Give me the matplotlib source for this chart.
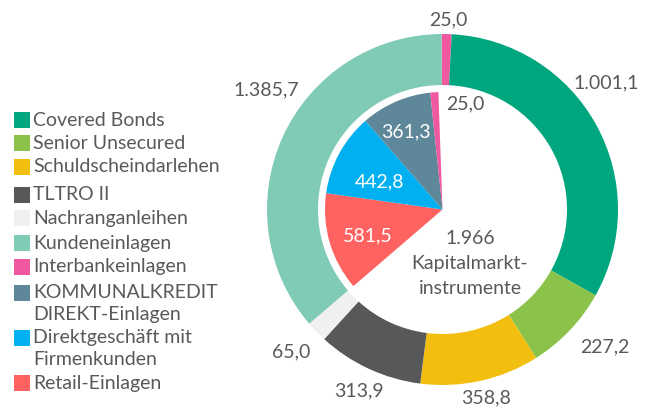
import matplotlib
matplotlib.use("Agg")
import matplotlib.pyplot as plt
from matplotlib.patches import Rectangle

plt.rcParams['font.family'] = ['Lato', 'DejaVu Sans']

# ---------------- data ----------------
# outer ring (clockwise from top)
outer_names = ["Interbankeinlagen", "Covered Bonds", "Senior Unsecured", "Schuldscheindarlehen",
               "TLTRO II", "Nachranganleihen", "Kundeneinlagen"]
outer_labels = ["25,0", "1.001,1", "227,2", "358,8", "313,9", "65,0", "1.385,7"]
# slice sizes as drawn in the picture (degrees of the ring)
outer_drawn = [3.3, 116.3, 28.5, 39.5, 35.1, 7.0, 130.3]

# inner pie (clockwise from top)
inner_names = ["Kapitalmarktinstrumente", "Retail-Einlagen", "Direktgeschäft mit Firmenkunden",
               "KOMMUNALKREDIT DIREKT-Einlagen", "Interbankeinlagen"]
inner_labels = ["1.966", "581,5", "442,8", "361,3", "25,0"]
inner_drawn = [231.3, 48.7, 41.0, 35.0, 4.0]

legend_labels = ["Covered Bonds", "Senior Unsecured", "Schuldscheindarlehen", "TLTRO II",
                 "Nachranganleihen", "Kundeneinlagen", "Interbankeinlagen",
                 "KOMMUNALKREDIT\nDIREKT-Einlagen", "Direktgeschäft mit\nFirmenkunden",
                 "Retail-Einlagen"]

# ---------------- styles ----------------
C = {
    "Covered Bonds": "#00A67E",
    "Senior Unsecured": "#8BC34A",
    "Schuldscheindarlehen": "#F2BE10",
    "TLTRO II": "#57585A",
    "Nachranganleihen": "#F0F0F0",
    "Kundeneinlagen": "#7FCBB5",
    "Interbankeinlagen": "#F058A0",
    "KOMMUNALKREDIT DIREKT-Einlagen": "#5E8799",
    "Direktgeschäft mit Firmenkunden": "#00B0F0",
    "Retail-Einlagen": "#FF6361",
    "Kapitalmarktinstrumente": "#FFFFFF",
}
TXT = "#595959"
FS = 14

W, H = 649, 407
CX, CY = 442.5, 209.5  # pie centre in pixels (from top-left)

fig = plt.figure(figsize=(W / 100, H / 100), dpi=100)
ax = fig.add_axes([0, 0, 1, 1])


def P(x, y):
    """pixel (from top-left) -> data coords centred on the pie"""
    return x - CX, CY - y


ax.pie(outer_drawn, colors=[C[n] for n in outer_names], radius=175.5, center=(0, 0),
       startangle=90.3, counterclock=False,
       wedgeprops=dict(width=51, edgecolor='none', linewidth=0))
ax.pie(inner_drawn, colors=[C[n] for n in inner_names], radius=117.5, center=(0, 0),
       startangle=92.0, counterclock=False,
       wedgeprops=dict(edgecolor='none', linewidth=0))

ax.set_xlim(-CX, W - CX)
ax.set_ylim(-(H - CY), CY)
ax.set_aspect('auto')
ax.axis('off')

# outer labels
outer_pos = [(448, 20), (606, 83), (605, 347), (486, 398), (359, 391), (291, 352), (266, 89.5)]
for lab, (px, py) in zip(outer_labels, outer_pos):
    ax.text(*P(px, py), lab, ha='center', va='center', fontsize=FS, color=TXT)

# inner labels
inner_pos = {"581,5": (368, 236), "442,8": (380, 182), "361,3": (406, 132)}
for lab in inner_labels[1:4]:
    ax.text(*P(*inner_pos[lab]), lab, ha='center', va='center', fontsize=FS, color='white')
ax.text(*P(465, 104), inner_labels[4], ha='center', va='center', fontsize=FS, color=TXT)
for txt, py in zip([inner_labels[0], "Kapitalmarkt-", "instrumente"], [238, 264, 288]):
    ax.text(*P(470, py), txt, ha='center', va='center', fontsize=FS, color=TXT)

# legend
leg_y = [120, 143.3, 166.7, 194.7, 218.3, 243.3, 266.7, 292.7, 338, 383]
leg_cols = [C["Covered Bonds"], C["Senior Unsecured"], C["Schuldscheindarlehen"], C["TLTRO II"],
            C["Nachranganleihen"], C["Kundeneinlagen"], C["Interbankeinlagen"],
            C["KOMMUNALKREDIT DIREKT-Einlagen"], C["Direktgeschäft mit Firmenkunden"],
            C["Retail-Einlagen"]]
for lab, col, y in zip(legend_labels, leg_cols, leg_y):
    x0, y0 = P(14, y + 8)
    ax.add_patch(Rectangle((x0, y0), 16, 16, facecolor=col, edgecolor='none'))
    for k, line in enumerate(lab.split("\n")):
        ax.text(*P(33, y + k * 21.5), line, ha='left', va='center', fontsize=FS, color=TXT)

fig.savefig("out.png", dpi=100)
